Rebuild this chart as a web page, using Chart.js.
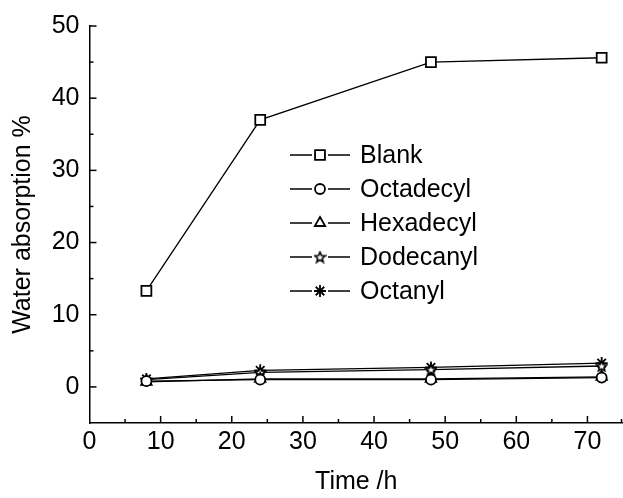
<!DOCTYPE html>
<html>
<head>
<meta charset="utf-8">
<script src="https://cdn.jsdelivr.net/npm/chart.js@4.4.0/dist/chart.umd.min.js"></script>
<style>
  html, body { margin: 0; padding: 0; background: #fff; }
  #wrap { width: 623px; height: 498px; }
</style>
</head>
<body>
<div id="wrap"><canvas id="chart"></canvas></div>
<script>
// Data

var times = [8, 24, 48, 72];
var blank = [13.3, 37.0, 45.0, 45.6];
var octadecyl = [0.8, 1.0, 1.0, 1.3];
var hexadecyl = [0.7, 1.1, 1.1, 1.4];
var dodecanyl = [1.0, 2.0, 2.4, 2.9];
var octanyl = [1.1, 2.3, 2.7, 3.3];
var xTicks = [0, 10, 20, 30, 40, 50, 60, 70];
var yTicks = [0, 10, 20, 30, 40, 50];

var FONT = '"Liberation Sans", Arial, sans-serif';

// five-pointed open star marker for Dodecanyl
function starMarker(size) {
    var c = document.createElement('canvas');
    c.width = size; c.height = size;
    var g = c.getContext('2d');
    var cx = size / 2, cy = size / 2 + 0.5, R = size / 2 - 1, r = R * 0.45;
    g.beginPath();
    for (var i = 0; i < 10; i++) {
        var rad = i % 2 === 0 ? R : r;
        var a = -Math.PI / 2 + i * Math.PI / 5;
        var px = cx + rad * Math.cos(a), py = cy + rad * Math.sin(a);
        if (i === 0) g.moveTo(px, py); else g.lineTo(px, py);
    }
    g.closePath();
    g.fillStyle = '#fff';
    g.fill();
    g.lineWidth = 1.6;
    g.strokeStyle = '#000';
    g.stroke();
    return c;
}

function pts(ys) {
    return times.map(function (t, i) { return { x: t, y: ys[i] }; });
}

function series(label, ys, style, radius) {
    return {
        label: label,
        data: pts(ys),
        borderColor: '#000',
        borderWidth: 1.3,
        pointStyle: style,
        pointRadius: radius,
        pointBackgroundColor: '#fff',
        pointBorderColor: '#000',
        pointBorderWidth: 1.8,
        fill: false,
        tension: 0
    };
}

var star = starMarker(13);

// inward tick marks, major and minor
var tickMarks = {
    id: 'tickMarks',
    afterDraw: function (chart) {
        var ctx = chart.ctx;
        var xs = chart.scales.x, ys = chart.scales.y;
        var area = chart.chartArea;
        ctx.save();
        ctx.strokeStyle = '#000';
        ctx.lineWidth = 1.5;
        for (var v = 5; v <= 75; v += 5) {
            var px = Math.min(xs.getPixelForValue(v), chart.width - 1.5);
            var len = v % 10 === 0 ? 7 : 4;
            ctx.beginPath();
            ctx.moveTo(px, area.bottom);
            ctx.lineTo(px, area.bottom - len);
            ctx.stroke();
        }
        for (var w = 0; w <= 50; w += 5) {
            var py = ys.getPixelForValue(w);
            var l = w % 10 === 0 ? 7 : 4;
            ctx.beginPath();
            ctx.moveTo(area.left, py);
            ctx.lineTo(area.left + l, py);
            ctx.stroke();
        }
        ctx.restore();
    }
};

// legend drawn as line - marker - line, like the original
var lineLegend = {
    id: 'lineLegend',
    afterDraw: function (chart) {
        var ctx = chart.ctx;
        var x0 = 290, y0 = 155, step = 34;
        ctx.save();
        ctx.font = '25px ' + FONT;
        ctx.textBaseline = 'middle';
        chart.data.datasets.forEach(function (ds, i) {
            var y = y0 + i * step;
            ctx.strokeStyle = '#000';
            ctx.lineWidth = 1.5;
            ctx.beginPath();
            ctx.moveTo(x0, y); ctx.lineTo(x0 + 22, y);
            ctx.moveTo(x0 + 38, y); ctx.lineTo(x0 + 60, y);
            ctx.stroke();
            ctx.fillStyle = '#fff';
            ctx.lineWidth = 1.8;
            Chart.helpers.drawPoint(ctx, {
                pointStyle: ds.pointStyle,
                radius: ds.pointRadius,
                borderWidth: 1.8
            }, x0 + 30, y);
            ctx.fillStyle = '#000';
            ctx.fillText(ds.label, x0 + 70, y + 1);
        });
        ctx.restore();
    }
};

Chart.defaults.font.family = FONT;
Chart.defaults.color = '#000';

var config = {
    type: 'line',
    data: {
        datasets: [
            series('Blank', blank, 'rect', 7),
            series('Octadecyl', octadecyl, 'circle', 5),
            series('Hexadecyl', hexadecyl, 'triangle', 6),
            series('Dodecanyl', dodecanyl, star, 6),
            series('Octanyl', octanyl, 'star', 6)
        ]
    },
    options: {
        responsive: true,
        maintainAspectRatio: false,
        animation: false,
        layout: { autoPadding: false, padding: { top: 26, right: 0, left: 0, bottom: 0 } },
        plugins: {
            legend: { display: false },
            tooltip: { enabled: false }
        },
        scales: {
            x: {
                type: 'linear',
                min: 0,
                max: 75,
                afterFit: function (s) { s.height = 75; },
                afterBuildTicks: function (s) {
                    s.ticks = xTicks.map(function (v) { return { value: v }; });
                },
                grid: { display: false, drawTicks: false },
                border: { display: true, color: '#000', width: 1.5 },
                ticks: { font: { size: 25 }, padding: 4, maxRotation: 0, autoSkip: false },
                title: {
                    display: true,
                    text: 'Time /h',
                    font: { size: 25 },
                    padding: { top: 4, bottom: 1 }
                }
            },
            y: {
                min: -5,
                max: 50,
                afterFit: function (s) { s.width = 89.5; },
                afterBuildTicks: function (s) {
                    s.ticks = yTicks.map(function (v) { return { value: v }; });
                },
                grid: { display: false, drawTicks: false },
                border: { display: true, color: '#000', width: 1.5 },
                ticks: { font: { size: 25 }, padding: 10, autoSkip: false },
                title: {
                    display: true,
                    text: 'Water absorption %',
                    font: { size: 25 },
                    padding: { top: 8, bottom: 4 }
                }
            }
        }
    },
    plugins: [tickMarks, lineLegend]
};

window.onload = function () {
    var ctx = document.getElementById('chart').getContext('2d');
    window.myChart = new Chart(ctx, config);
};
</script>
</body>
</html>
